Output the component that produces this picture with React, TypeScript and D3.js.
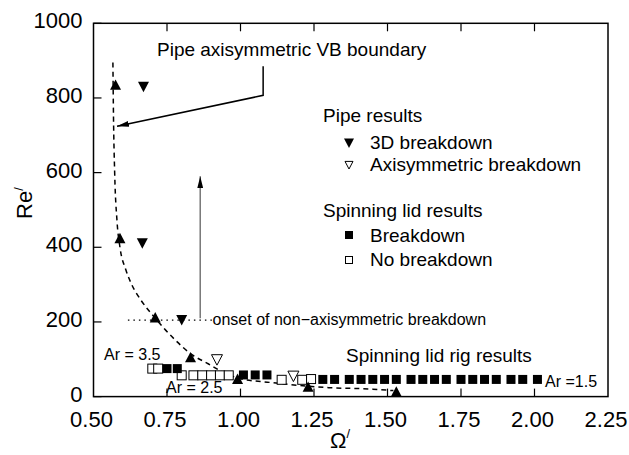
import { line as d3Line, curveMonotoneX, scaleLinear } from "d3";

// Axis ticks
const omegaTicks = [0.5, 0.75, 1.0, 1.25, 1.5, 1.75, 2.0, 2.25];
const reTicks = [0, 200, 400, 600, 800, 1000];

// Pipe axisymmetric VB boundary (dashed curve + up triangles)
const boundaryCurveOmega = [0.566, 0.568, 0.572, 0.58, 0.59, 0.61, 0.63, 0.66, 0.71, 0.78, 0.83, 0.89, 0.96, 1.0, 1.1, 1.2, 1.3, 1.45, 1.52];
const boundaryCurveRe = [895, 750, 600, 470, 400, 340, 300, 260, 210, 150, 115, 88, 58, 48, 38, 30, 24, 20, 16];
const boundaryOmega = [0.575, 0.59, 0.71, 0.83, 0.99, 1.23, 1.53];
const boundaryRe = [835, 424, 212, 105, 47, 26, 13];

// Pipe results
const pipe3DOmega = [0.67, 0.666, 0.8];
const pipe3DRe = [830, 411, 205];
const pipeAxiOmega = [0.92, 1.18];
const pipeAxiRe = [99, 55];

// Spinning lid results
const lidBreakdownOmega = [0.75, 0.785, 1.01, 1.05, 1.09, 1.28, 1.32, 1.37, 1.41, 1.45, 1.49, 1.53, 1.58, 1.62, 1.66, 1.7, 1.75, 1.79, 1.83, 1.87, 1.92, 1.96, 2.01];
const lidBreakdownRe = [75, 75, 58, 58, 58, 46, 46, 46, 46, 46, 46, 46, 46, 46, 46, 46, 46, 46, 46, 46, 46, 46, 46];
const lidNoBreakdownOmega = [0.7, 0.72, 0.8, 0.84, 0.87, 0.9, 0.93, 0.96, 1.14, 1.21, 1.24];
const lidNoBreakdownRe = [75, 75, 57, 57, 57, 57, 57, 57, 45, 45, 47];

const W = 629;
const H = 455;
const FONT = "'Liberation Sans', Arial, Helvetica, sans-serif";

const x = scaleLinear().domain([0.5, 2.25]).range([93.5, 608]);
const y = scaleLinear().domain([0, 1000]).range([396.6, 23.3]);

const triUp = (cx: number, cy: number, s = 11) =>
  `M${cx - s / 2},${cy + s * 0.45}L${cx + s / 2},${cy + s * 0.45}L${cx},${cy - s * 0.5}Z`;
const triDown = (cx: number, cy: number, s = 11) =>
  `M${cx - s / 2},${cy - s * 0.45}L${cx + s / 2},${cy - s * 0.45}L${cx},${cy + s * 0.5}Z`;

export default function App() {
  const curve = d3Line<number>()
    .x((_, i) => x(boundaryCurveOmega[i]))
    .y((d) => y(d))
    .curve(curveMonotoneX)(boundaryCurveRe) ?? "";

  const [x0, x1] = x.range();
  const [y0, y1] = y.range();
  const sq = 9;

  return (
    <div style={{ position: "fixed", left: 0, top: 0 }}>
      <svg width={W} height={H} viewBox={`0 0 ${W} ${H}`} style={{ display: "block", background: "#fff" }} fontFamily={FONT}>
        <defs>
          <marker id="head" viewBox="0 0 12 6" refX={12} refY={3} markerWidth={12} markerHeight={6} markerUnits="userSpaceOnUse" orient="auto">
            <path d="M0,0L12,3L0,6Z" fill="#000" />
          </marker>
        </defs>

        {/* frame */}
        <rect x={x0} y={y1} width={x1 - x0} height={y0 - y1} fill="none" stroke="#000" strokeWidth={1.5} />
        {omegaTicks.slice(1, -1).map((t) => (
          <g key={`xt-${t}`}>
            <line x1={x(t)} x2={x(t)} y1={y0} y2={y0 - 8} stroke="#000" strokeWidth={1.2} />
            <line x1={x(t)} x2={x(t)} y1={y1} y2={y1 + 8} stroke="#000" strokeWidth={1.2} />
          </g>
        ))}
        {reTicks.map((t) => (
          <line key={`yt-${t}`} x1={x0} x2={x0 + 8} y1={y(t)} y2={y(t)} stroke="#000" strokeWidth={1.2} />
        ))}
        {omegaTicks.map((t) => (
          <text key={`xl-${t}`} x={x(t) - 2} y={y0 + 30.5} fontSize={22} textAnchor="middle">
            {t.toFixed(2)}
          </text>
        ))}
        {reTicks.map((t) => (
          <text key={`yl-${t}`} x={x0 - 11} y={y(t) + 5} fontSize={22} textAnchor="end">
            {t}
          </text>
        ))}

        {/* axis titles */}
        <text transform="translate(32,203) rotate(-90)" fontSize={22} textAnchor="middle">
          Re<tspan fontSize={13} dy={-9}>/</tspan>
        </text>
        <text x={340} y={448} fontSize={22} textAnchor="middle">
          Ω<tspan fontSize={13} dy={-10}>/</tspan>
        </text>

        {/* boundary curve */}
        <path d={curve} fill="none" stroke="#000" strokeWidth={1.5} strokeDasharray="5,4" />

        {/* onset line and arrow */}
        <line x1={x(0.617)} x2={x(0.905)} y1={y(205)} y2={y(205)} stroke="#000" strokeWidth={1.2} strokeDasharray="1.5,4" />
        <line x1={x(0.863)} x2={x(0.863)} y1={y(210)} y2={y(590)} stroke="#777" strokeWidth={1.5} markerEnd="url(#head)" />
        <text x={x(0.905)} y={y(205) + 5} fontSize={16}>
          onset of non−axisymmetric breakdown
        </text>

        {/* boundary annotation */}
        <polyline
          points={`${x(1.077)},${y(885)} ${x(1.077)},${y(807)} ${x(0.58)},${y(724)}`}
          fill="none"
          stroke="#000"
          strokeWidth={1.5}
          markerEnd="url(#head)"
        />
        <text x={x(0.716)} y={y(912)} fontSize={19}>
          Pipe axisymmetric VB boundary
        </text>

        {/* spinning lid markers */}
        {lidNoBreakdownOmega.map((o, i) => (
          <rect key={`nb-${i}`} x={x(o) - sq / 2} y={y(lidNoBreakdownRe[i]) - sq / 2} width={sq} height={sq} fill="#fff" stroke="#000" strokeWidth={1} />
        ))}
        {lidBreakdownOmega.map((o, i) => (
          <rect key={`b-${i}`} x={x(o) - sq / 2} y={y(lidBreakdownRe[i]) - sq / 2} width={sq} height={sq} fill="#000" />
        ))}

        {/* pipe markers */}
        {boundaryOmega.map((o, i) => (
          <path key={`bu-${i}`} d={triUp(x(o), y(boundaryRe[i]))} fill="#000" />
        ))}
        {pipe3DOmega.map((o, i) => (
          <path key={`p3-${i}`} d={triDown(x(o), y(pipe3DRe[i]))} fill="#000" />
        ))}
        {pipeAxiOmega.map((o, i) => (
          <path key={`pa-${i}`} d={triDown(x(o), y(pipeAxiRe[i]))} fill="#fff" stroke="#000" strokeWidth={1} />
        ))}

        {/* in-plot labels */}
        <text x={104} y={360} fontSize={16}>Ar = 3.5</text>
        <text x={166} y={393} fontSize={16}>Ar = 2.5</text>
        <text x={545} y={387} fontSize={16}>Ar =1.5</text>
        <text x={346} y={362} fontSize={19}>Spinning lid rig results</text>

        {/* legend */}
        <g fontSize={19}>
          <text x={323} y={122}>Pipe results</text>
          <path d={triDown(349, 143, 10)} fill="#000" />
          <text x={370} y={149}>3D breakdown</text>
          <path d={triDown(349, 165, 8)} fill="#fff" stroke="#000" strokeWidth={1} />
          <text x={370} y={171}>Axisymmetric breakdown</text>
          <text x={323} y={217}>Spinning lid results</text>
          <rect x={345} y={231} width={8} height={8} fill="#000" />
          <text x={370} y={242}>Breakdown</text>
          <rect x={345.5} y={256.5} width={7} height={7} fill="#fff" stroke="#000" strokeWidth={1} />
          <text x={370} y={266}>No breakdown</text>
        </g>
      </svg>
    </div>
  );
}
